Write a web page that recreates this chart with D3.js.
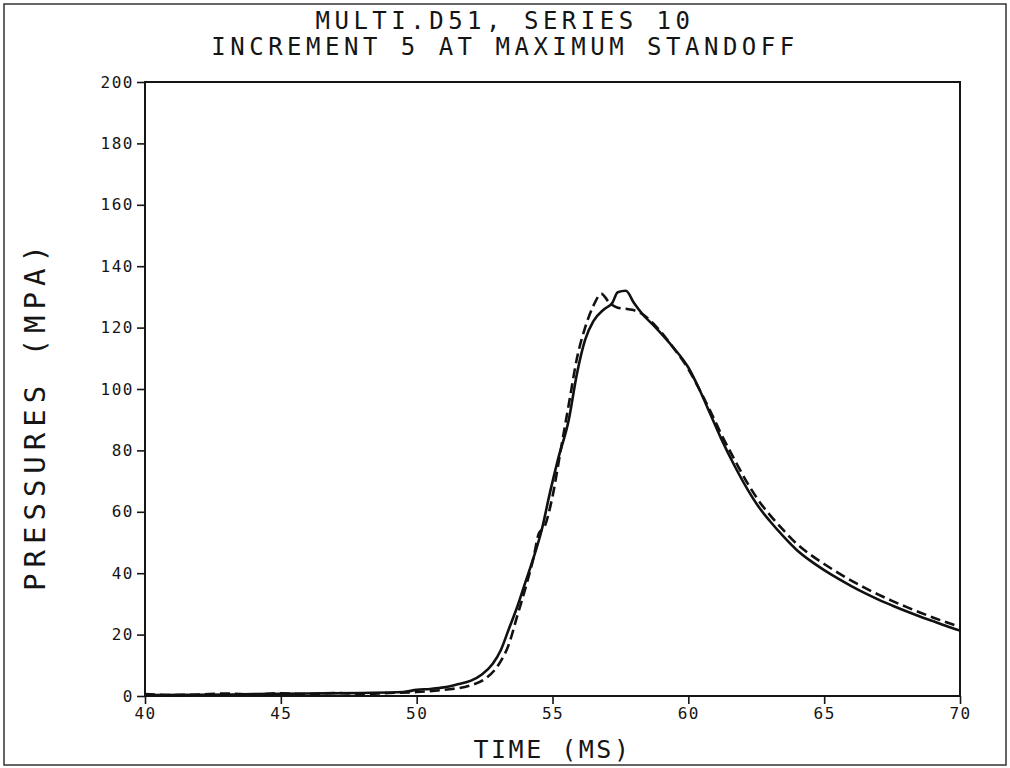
<!DOCTYPE html>
<html>
<head>
<meta charset="utf-8">
<script src="https://cdn.jsdelivr.net/npm/d3@7"></script>
<style>
  body { margin: 0; background: #fff; }
  text { font-family: "DejaVu Sans Mono", monospace; fill: #151515; }
</style>
</head>
<body>
<svg id="drawing_chart"></svg>
<script>
const title_lines = ["MULTI.D51, SERIES 10", "INCREMENT 5 AT MAXIMUM STANDOFF"];
const x_label = "TIME (MS)";
const y_label = "PRESSURES (MPA)";
const x_ticks = [40, 45, 50, 55, 60, 65, 70];
const y_ticks = [0, 20, 40, 60, 80, 100, 120, 140, 160, 180, 200];

// solid curve
const solid_time = [40, 42, 44, 46, 48, 49.5, 50, 50.5, 51, 51.5, 52, 52.4, 52.8, 53.1, 53.4, 53.7,
  54, 54.3, 54.6, 54.9, 55.2, 55.6, 55.9, 56.2, 56.5, 56.9, 57.2, 57.4, 57.7, 58, 58.3, 58.8,
  59.4, 60, 60.4, 60.8, 61.2, 61.7, 62.2, 62.6, 63, 63.5, 64, 64.5, 65, 65.5, 66, 66.5, 67,
  67.5, 68, 68.5, 69, 69.5, 70];
const solid_pressure = [0.3, 0.4, 0.6, 0.8, 1.0, 1.3, 2.0, 2.3, 2.8, 3.8, 5, 7, 10.5, 15, 22, 29,
  37, 45, 54, 66, 77, 90, 105, 116, 122, 126, 128, 131.5, 132, 128, 124.5, 120,
  114, 107, 100, 92, 84, 75, 67, 61.5, 57, 52, 47.5, 44, 41, 38.3, 35.8, 33.5, 31.4,
  29.5, 27.7, 26, 24.4, 22.8, 21.3];

// dashed curve
const dashed_time = [40, 41, 42, 43, 44, 45, 46, 47, 48, 49, 50, 51, 52, 52.5, 53, 53.4, 53.7,
  54, 54.3, 54.5, 54.7, 55, 55.3, 55.6, 55.9, 56.2, 56.5, 56.8, 57.1, 57.4, 57.8, 58.2, 58.8,
  59.4, 60, 60.4, 60.8, 61.2, 61.7, 62.2, 62.6, 63, 63.5, 64, 64.5, 65, 65.5, 66, 66.5, 67,
  67.5, 68, 68.5, 69, 69.5, 70];
const dashed_pressure = [0.6, 0.3, 0.5, 0.8, 0.5, 0.9, 0.6, 1.0, 0.7, 1.0, 1.3, 2.0, 3.5, 5.5, 10, 17, 26,
  35, 45, 53, 55, 65, 80, 95, 110, 120, 127, 131, 128, 126.5, 126, 125, 120.5,
  114, 106.5, 100, 93, 85.5, 77, 69, 63.5, 59, 54, 49.5, 46, 43, 40.2, 37.6, 35.2, 33,
  31, 29.1, 27.3, 25.6, 24, 22.5];

class PressureChart {
  constructor( config, series ) {
    this.config = {
      parent: config.parent,
      width: config.width || 1010,
      height: config.height || 768,
      margin: config.margin || {top:82, right:50, bottom:72, left:145}
    };
    this.series = series;
    this.init();
  }

  init() {
    let self = this;
    self.svg = d3.select( self.config.parent )
      .attr('width', self.config.width)
      .attr('height', self.config.height);

    // outer frame of the sheet
    self.svg.append('rect')
      .attr('x', 4).attr('y', 4)
      .attr('width', self.config.width - 8)
      .attr('height', self.config.height - 7)
      .attr('fill', 'none')
      .attr('stroke', '#333')
      .attr('stroke-width', 1.5);

    self.chart = self.svg.append('g')
      .attr('transform', `translate(${self.config.margin.left}, ${self.config.margin.top})`);

    self.inner_width = self.config.width - self.config.margin.left - self.config.margin.right;
    self.inner_height = self.config.height - self.config.margin.top - self.config.margin.bottom;

    self.xscale = d3.scaleLinear()
      .domain([40, 70])
      .range([0, self.inner_width]);

    self.yscale = d3.scaleLinear()
      .domain([0, 200])
      .range([self.inner_height, 0]);

    self.xaxis = d3.axisBottom( self.xscale )
      .tickValues(x_ticks)
      .tickSize(8)
      .tickPadding(4)
      .tickFormat(d3.format('d'));

    self.yaxis = d3.axisLeft( self.yscale )
      .tickValues(y_ticks)
      .tickSize(8)
      .tickPadding(3)
      .tickFormat(d3.format('d'));
  }

  render() {
    let self = this;

    self.chart.append('g')
      .attr('transform', `translate(0, ${self.inner_height})`)
      .call( self.xaxis )
      .call( g => g.select('.domain').remove() );

    self.chart.append('g')
      .call( self.yaxis )
      .call( g => g.select('.domain').remove() );

    self.chart.selectAll('.tick line')
      .attr('stroke', '#151515')
      .attr('stroke-width', 1.6);

    self.chart.selectAll('.tick text')
      .attr('font-family', '"DejaVu Sans Mono", monospace')
      .attr('font-size', 16)
      .attr('letter-spacing', 1.5)
      .attr('fill', '#151515');

    self.chart.append('rect')
      .attr('x', 0).attr('y', 0)
      .attr('width', self.inner_width)
      .attr('height', self.inner_height)
      .attr('fill', 'none')
      .attr('stroke', '#151515')
      .attr('stroke-width', 2);

    const line = d3.line()
      .x(d => self.xscale(d.t))
      .y(d => self.yscale(d.p))
      .curve(d3.curveMonotoneX);

    self.chart.selectAll('.series')
      .data(self.series)
      .enter()
      .append('path')
      .attr('class', 'series')
      .attr('d', d => line(d.values))
      .attr('fill', 'none')
      .attr('stroke', '#111')
      .attr('stroke-width', 2.6)
      .attr('stroke-dasharray', d => d.dashed ? '10,5' : null);

    self.svg.selectAll('.title')
      .data(title_lines)
      .enter()
      .append('text')
      .attr('class', 'title')
      .attr('x', 505)
      .attr('y', (d, i) => 29 + i * 26)
      .attr('text-anchor', 'middle')
      .attr('font-size', 24)
      .attr('letter-spacing', 4.5)
      .text(d => d);

    self.svg.append('text')
      .attr('x', self.config.margin.left + self.inner_width / 2)
      .attr('y', 758)
      .attr('text-anchor', 'middle')
      .attr('font-size', 25)
      .attr('letter-spacing', 2.5)
      .text(x_label);

    self.svg.append('text')
      .attr('transform', `translate(45, 415) rotate(-90)`)
      .attr('text-anchor', 'middle')
      .attr('font-size', 29)
      .attr('letter-spacing', 6)
      .text(y_label);
  }
}

const series = [
  { dashed: false, values: solid_time.map((t, i) => ({ t: t, p: solid_pressure[i] })) },
  { dashed: true, values: dashed_time.map((t, i) => ({ t: t, p: dashed_pressure[i] })) }
];

const chart = new PressureChart({
  parent: '#drawing_chart',
  width: 1010,
  height: 768,
  margin: {top:82, right:50, bottom:72, left:145}
}, series);
chart.render();
</script>
</body>
</html>
